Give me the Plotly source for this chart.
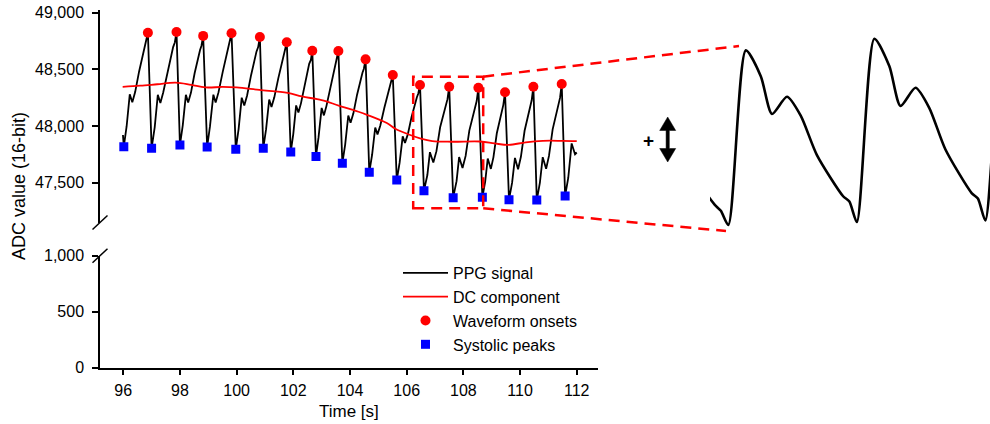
import plotly.graph_objects as go

# ---------------- data ----------------
# PPG signal samples: time [s] and raw ADC value (16-bit)
time_s = [
    95.99, 96.02, 96.12, 96.23, 96.32, 96.42, 96.56, 96.75, 96.81, 96.87,
    97.00, 97.11, 97.22, 97.31, 97.41, 97.56, 97.76, 97.82, 97.88,
    98.00, 98.10, 98.21, 98.29, 98.39, 98.52, 98.71, 98.76, 98.82,
    98.96, 99.06, 99.18, 99.26, 99.36, 99.51, 99.70, 99.76, 99.82,
    99.97, 100.07, 100.18, 100.27, 100.37, 100.51, 100.70, 100.76, 100.82,
    100.94, 101.04, 101.15, 101.23, 101.33, 101.47, 101.65, 101.71, 101.77,
    101.91, 102.00, 102.10, 102.18, 102.27, 102.40, 102.56, 102.62, 102.67,
    102.80, 102.89, 103.00, 103.08, 103.17, 103.31, 103.48, 103.53, 103.59,
    103.73, 103.83, 103.94, 104.02, 104.12, 104.25, 104.44, 104.49, 104.55,
    104.68, 104.78, 104.89, 104.97, 105.07, 105.21, 105.39, 105.45, 105.51,
    105.65, 105.75, 105.86, 105.94, 106.04, 106.17, 106.36, 106.41, 106.47,
    106.61, 106.73, 106.82, 106.94, 107.05, 107.18, 107.39, 107.44, 107.50,
    107.64, 107.76, 107.85, 107.97, 108.08, 108.21, 108.42, 108.47, 108.53,
    108.67, 108.77, 108.86, 108.97, 109.06, 109.18, 109.37, 109.41, 109.47,
    109.61, 109.72, 109.82, 109.93, 110.03, 110.16, 110.36, 110.41, 110.47,
    110.59, 110.70, 110.80, 110.92, 111.02, 111.15, 111.36, 111.41, 111.47,
    111.59, 111.70, 111.82, 111.94, 112.00,
]
ppg = [
    47920, 47816, 47997, 48279, 48209, 48299, 48481, 48692, 48732, 48823,
    47802, 47987, 48275, 48203, 48295, 48480, 48696, 48737, 48830,
    47831, 48005, 48274, 48207, 48294, 48467, 48670, 48708, 48795,
    47814, 47995, 48276, 48206, 48296, 48477, 48687, 48728, 48818,
    47793, 47972, 48249, 48180, 48269, 48448, 48656, 48696, 48785,
    47802, 47971, 48233, 48167, 48252, 48420, 48617, 48655, 48739,
    47769, 47930, 48181, 48118, 48199, 48360, 48548, 48583, 48664,
    47730, 47898, 48159, 48093, 48177, 48345, 48541, 48578, 48662,
    47670, 47835, 48092, 48028, 48111, 48276, 48469, 48505, 48588,
    47590, 47745, 47986, 47925, 48003, 48158, 48338, 48373, 48450,
    47522, 47673, 47908, 47850, 47925, 48076, 48253, 48286, 48362,
    47428, 47566, 47768, 47676, 47777, 47988, 48208, 48236, 48346,
    47366, 47512, 47725, 47628, 47735, 47958, 48191, 48220, 48337,
    47369, 47508, 47712, 47620, 47722, 47935, 48158, 48186, 48297,
    47348, 47498, 47717, 47617, 47727, 47957, 48196, 48226, 48346,
    47345, 47499, 47724, 47622, 47735, 47970, 48216, 48247, 48370,
    47381, 47540, 47845, 47750, 47765,
]

# Slowly varying DC component
dc_time = [95.98, 96.6, 97.2, 97.85, 98.4, 98.9, 99.5, 100.0, 100.8, 101.8,
           102.3, 103.0, 103.6, 104.3, 104.6, 105.3, 105.6, 106.1, 106.5, 106.9,
           107.6, 108.6, 109.1, 109.6, 110.2, 110.8, 111.5, 112.0]
dc_value = [48345, 48355, 48368, 48382, 48362, 48340, 48344, 48340, 48318, 48292,
            48260, 48228, 48180, 48125, 48098, 48025, 47975, 47922, 47888, 47866,
            47860, 47862, 47845, 47832, 47855, 47868, 47868, 47866]

# Detected fiducial points (legend names as used in the analysis)
onset_time = [96.87, 97.88, 98.82, 99.82, 100.82, 101.77, 102.67, 103.59,
              104.55, 105.51, 106.47, 107.50, 108.53, 109.47, 110.47, 111.47]
onset_value = [48823, 48830, 48795, 48818, 48785, 48739, 48664, 48662,
               48588, 48450, 48362, 48346, 48337, 48297, 48346, 48370]
peak_time = [96.02, 97.00, 98.00, 98.96, 99.97, 100.94, 101.91, 102.80, 103.73,
             104.68, 105.65, 106.61, 107.64, 108.67, 109.61, 110.59, 111.59]
peak_value = [47816, 47802, 47831, 47814, 47793, 47802, 47769, 47730, 47670,
              47590, 47522, 47428, 47366, 47369, 47348, 47345, 47381]

# Zoomed window shown inverted on the right
zoom_time = [106.23, 108.70]
zoom_value = [47272, 48435]

x_ticks = [96, 98, 100, 102, 104, 106, 108, 110, 112]
y_ticks_low = [0, 500, 1000]
y_tick_labels_low = ["0", "500", "1,000"]
y_ticks_high = [47500, 48000, 48500, 49000]
y_tick_labels_high = ["47,500", "48,000", "48,500", "49,000"]

# ---------------- layout geometry (pixels) ----------------
W, H = 990, 424
MAIN_L, MAIN_R = 100, 598
UP_TOP, UP_BOT = 10, 222.5
LOW_TOP, LOW_BOT = 255.7, 367.7
X_RANGE = [95.18, 112.75]
Y_UP_RANGE = [47146.6, 49023.9]
Y_LOW_RANGE = [0, 1000]
INS_L, INS_R, INS_TOP, INS_BOT = 710, 990, 30, 240
X_INS_RANGE = [106.323, 108.567]
Y_INS_RANGE = [48442, 47319]   # reversed: signal drawn inverted

FONT = "Liberation Sans, Arial, Helvetica, sans-serif"
RED, BLUE = "#ff0000", "#0000ff"


def fx(x):
    return x / W


def fy(y):
    return 1 - y / H


def main_px(t):
    return MAIN_L + (t - X_RANGE[0]) / (X_RANGE[1] - X_RANGE[0]) * (MAIN_R - MAIN_L)


def upper_py(v):
    return UP_BOT - (v - Y_UP_RANGE[0]) / (Y_UP_RANGE[1] - Y_UP_RANGE[0]) * (UP_BOT - UP_TOP)


fig = go.Figure()

# empty trace so the lower (0 - 1,000) panel is created
fig.add_trace(go.Scatter(x=[], y=[], mode="lines", showlegend=False,
                         hoverinfo="skip", xaxis="x", yaxis="y"))
fig.add_trace(go.Scatter(x=time_s, y=ppg, mode="lines", name="PPG signal",
                         line=dict(color="black", width=1.8),
                         xaxis="x", yaxis="y2"))
fig.add_trace(go.Scatter(x=dc_time, y=dc_value, mode="lines", name="DC component",
                         line=dict(color=RED, width=1.8, shape="spline"),
                         xaxis="x", yaxis="y2"))
fig.add_trace(go.Scatter(x=onset_time, y=onset_value, mode="markers", name="Waveform onsets",
                         marker=dict(color=RED, size=10, symbol="circle"),
                         xaxis="x", yaxis="y2"))
fig.add_trace(go.Scatter(x=peak_time, y=peak_value, mode="markers", name="Systolic peaks",
                         marker=dict(color=BLUE, size=9, symbol="square"),
                         xaxis="x", yaxis="y2"))
# inverted close-up
fig.add_trace(go.Scatter(x=time_s, y=ppg, mode="lines", showlegend=False,
                         line=dict(color="black", width=2.6, shape="spline", smoothing=0.7),
                         xaxis="x2", yaxis="y3"))

axis_common = dict(showgrid=False, zeroline=False, showline=True, linecolor="black",
                   linewidth=1.5, ticks="outside", ticklen=6, tickwidth=1.5,
                   tickcolor="black", automargin=False,
                   tickfont=dict(family=FONT, size=16, color="black"))

shapes = []
# zoom window
shapes.append(dict(type="rect", xref="x", yref="y2",
                   x0=zoom_time[0], x1=zoom_time[1], y0=zoom_value[0], y1=zoom_value[1],
                   line=dict(color=RED, width=2.5, dash="11px,7px")))
# connectors from the window to the close-up
zx = main_px(zoom_time[1])
for (vy, ex, ey) in [(zoom_value[1], 739, 46), (zoom_value[0], 726, 231)]:
    shapes.append(dict(type="line", xref="paper", yref="paper",
                       x0=fx(zx), y0=fy(upper_py(vy)), x1=fx(ex), y1=fy(ey),
                       line=dict(color=RED, width=2.5, dash="11px,7px")))
# axis break marks
for cy in (UP_BOT, LOW_TOP):
    shapes.append(dict(type="line", xref="paper", yref="paper",
                       x0=fx(MAIN_L - 7.5), y0=fy(cy + 7), x1=fx(MAIN_L + 7.5), y1=fy(cy - 7),
                       line=dict(color="black", width=1.5)))
# inversion symbol: double-headed arrow
cx, top, bot, hw, hh, sw = 667.7, 117, 162, 8, 13.5, 1.6
pts = [(cx, top), (cx + hw, top + hh), (cx + sw, top + hh), (cx + sw, bot - hh),
       (cx + hw, bot - hh), (cx, bot), (cx - hw, bot - hh), (cx - sw, bot - hh),
       (cx - sw, top + hh), (cx - hw, top + hh)]
path = "M " + " L ".join(f"{fx(a):.5f},{fy(b):.5f}" for a, b in pts) + " Z"
shapes.append(dict(type="path", xref="paper", yref="paper", path=path,
                   fillcolor="black", line=dict(color="black", width=0.5)))

annotations = [
    dict(text="Time [s]", xref="paper", yref="paper", x=fx(349), y=fy(411),
         xanchor="center", yanchor="middle",
         showarrow=False, font=dict(family=FONT, size=17, color="black")),
    dict(text="ADC value (16-bit)", xref="paper", yref="paper", x=fx(19), y=fy(186),
         xanchor="center", yanchor="middle",
         textangle=-90, showarrow=False, font=dict(family=FONT, size=18, color="black")),
    dict(text="<b>+</b>", xref="paper", yref="paper", x=fx(648), y=fy(140),
         xanchor="center", yanchor="middle",
         showarrow=False, font=dict(family=FONT, size=19, color="black")),
]

fig.update_layout(
    width=W, height=H,
    margin=dict(l=0, r=0, t=0, b=0),
    paper_bgcolor="white", plot_bgcolor="white",
    template="none",
    showlegend=True,
    legend=dict(x=fx(398), y=fy(256), xanchor="left", yanchor="top",
                bgcolor="rgba(0,0,0,0)", borderwidth=0, itemwidth=45,
                font=dict(family=FONT, size=16, color="black")),
    xaxis=dict(domain=[fx(MAIN_L), fx(MAIN_R)], range=X_RANGE, anchor="y",
               tickvals=x_ticks, ticklabelstandoff=1, **axis_common),
    yaxis=dict(domain=[fy(LOW_BOT), fy(LOW_TOP)], range=Y_LOW_RANGE, anchor="x",
               tickvals=y_ticks_low, ticktext=y_tick_labels_low,
               ticklabelstandoff=5, **axis_common),
    yaxis2=dict(domain=[fy(UP_BOT), fy(UP_TOP)], range=Y_UP_RANGE, anchor="x",
                tickvals=y_ticks_high, ticktext=y_tick_labels_high,
                ticklabelstandoff=5, **axis_common),
    xaxis2=dict(domain=[fx(INS_L), fx(INS_R)], range=X_INS_RANGE, anchor="y3",
                visible=False),
    yaxis3=dict(domain=[fy(INS_BOT), fy(INS_TOP)], range=Y_INS_RANGE, anchor="x2",
                visible=False),
    shapes=shapes,
    annotations=annotations,
)

fig.write_html("out.html")
